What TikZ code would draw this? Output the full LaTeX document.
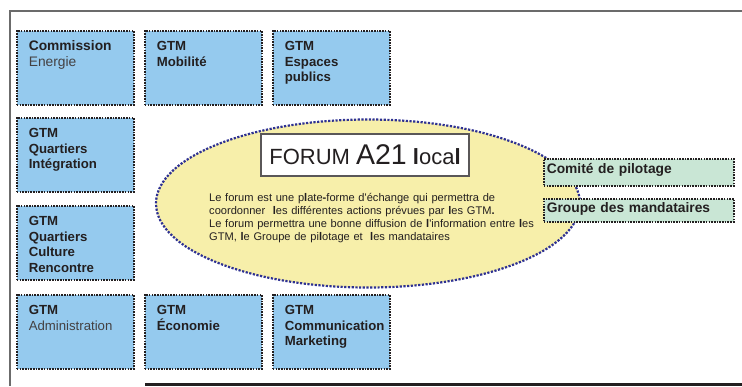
\documentclass[tikz,border=0pt]{standalone}
\usepackage{fontspec}
\setmainfont{Liberation Sans}[Ligatures=TeXOff]
\usetikzlibrary{shapes.geometric}

\definecolor{boxblue}{HTML}{95CAEE}
\definecolor{boxgreen}{HTML}{C9E6D5}
\definecolor{forumyellow}{HTML}{F7EFAA}
\definecolor{forumblue}{HTML}{2E3192}
\definecolor{inkdark}{HTML}{231F20}
\definecolor{framegray}{HTML}{6B6B6B}

\newcommand{\bl}{\textbf{l}}

\begin{document}
\begin{tikzpicture}[x=1pt, y=-1pt,
	every node/.style={text=inkdark, font=\fontsize{13.8}{15.7}\selectfont\bfseries},
	gtm/.style={rectangle, anchor=north west, fill=boxblue, draw=inkdark, line width=1.6pt, dash pattern=on 1.6pt off 1.1pt, inner xsep=12pt, inner ysep=0pt, text width=93pt, text height=19.5pt, text depth=54.5pt, align=left, font=\fontsize{13.2}{15.7}\selectfont\bfseries},
	cote/.style={rectangle, anchor=north west, fill=boxgreen, draw=inkdark, line width=1.6pt, dash pattern=on 1.6pt off 1.1pt, inner xsep=3pt, inner ysep=0pt, text width=184pt, align=left}]
				\useasboundingbox (0,0) rectangle (742,386);
				
				% cadre
				\coordinate (cg) at (10,11);
				\draw[framegray, line width=1.4pt] (742,11) -- (cg) -- (10,386);
				\coordinate (bg) at (145,384.5);
				\draw[inkdark, line width=3pt] (bg) -- (742,384.5);
				
				% forum
				\node[ellipse, fill=forumyellow, draw=forumblue, line width=2.2pt, dash pattern=on 2.2pt off 1.5pt, minimum width=424pt, minimum height=168pt] (forum) at (368,203.5){};
				\node[rectangle, fill=white, draw=inkdark!75, line width=1.2pt, minimum width=208pt, minimum height=42pt, font=\fontsize{22}{22}\selectfont\mdseries] (titre) at (365,155){FORUM {\fontsize{28.5}{28}\selectfont A21} \bl oca\bl};
				\node[anchor=base west, inner sep=0pt, text width=340pt, align=left, font=\fontsize{11.1}{12.8}\selectfont\mdseries] (texte) at (209,201.7){Le forum est une p\bl ate{\bfseries -}forme d'échange qui permettra de\\
					coordonner\ \ \bl es différentes actions prévues par \bl es GTM{\bfseries .}\\
					Le forum permettra une bonne diffusion de \bl'information entre \bl es\\
					GTM, \bl e Groupe de pi\bl otage et\ \ \bl es mandataires};
				
				% groupes
				\node[gtm] (energie) at (16,30){{\fontsize{13.8}{15.7}\selectfont Commission}\\ {\mdseries\color{inkdark!85}\fontsize{13.8}{15.7}\selectfont Energie}};
				\node[gtm] (mobilite) at (144,30){GTM\\ Mobilité};
				\node[gtm] (espaces) at (272,30){GTM\\ Espaces\\ publics};
				\node[gtm] (integration) at (16,117){GTM\\ Quartiers\\ Intégration};
				\node[gtm] (culture) at (16,205){GTM\\ Quartiers\\ Culture\\ Rencontre};
				\node[gtm] (admin) at (16,294){GTM\\ {\mdseries\color{inkdark!85}Administration}};
				\node[gtm] (economie) at (144,294){GTM\\ Économie};
				\node[gtm] (communication) at (272,294){GTM\\ Communication\\ Marketing};
				
				% pilotage
				\node[cote, text height=15pt, text depth=12pt] (pilotage) at (543,158){Comité de pi\bl otage};
				\node[cote, text height=14pt, text depth=9pt] (mandataires) at (543,198){Groupe des mandataires};
				\end{tikzpicture}
\end{document}
